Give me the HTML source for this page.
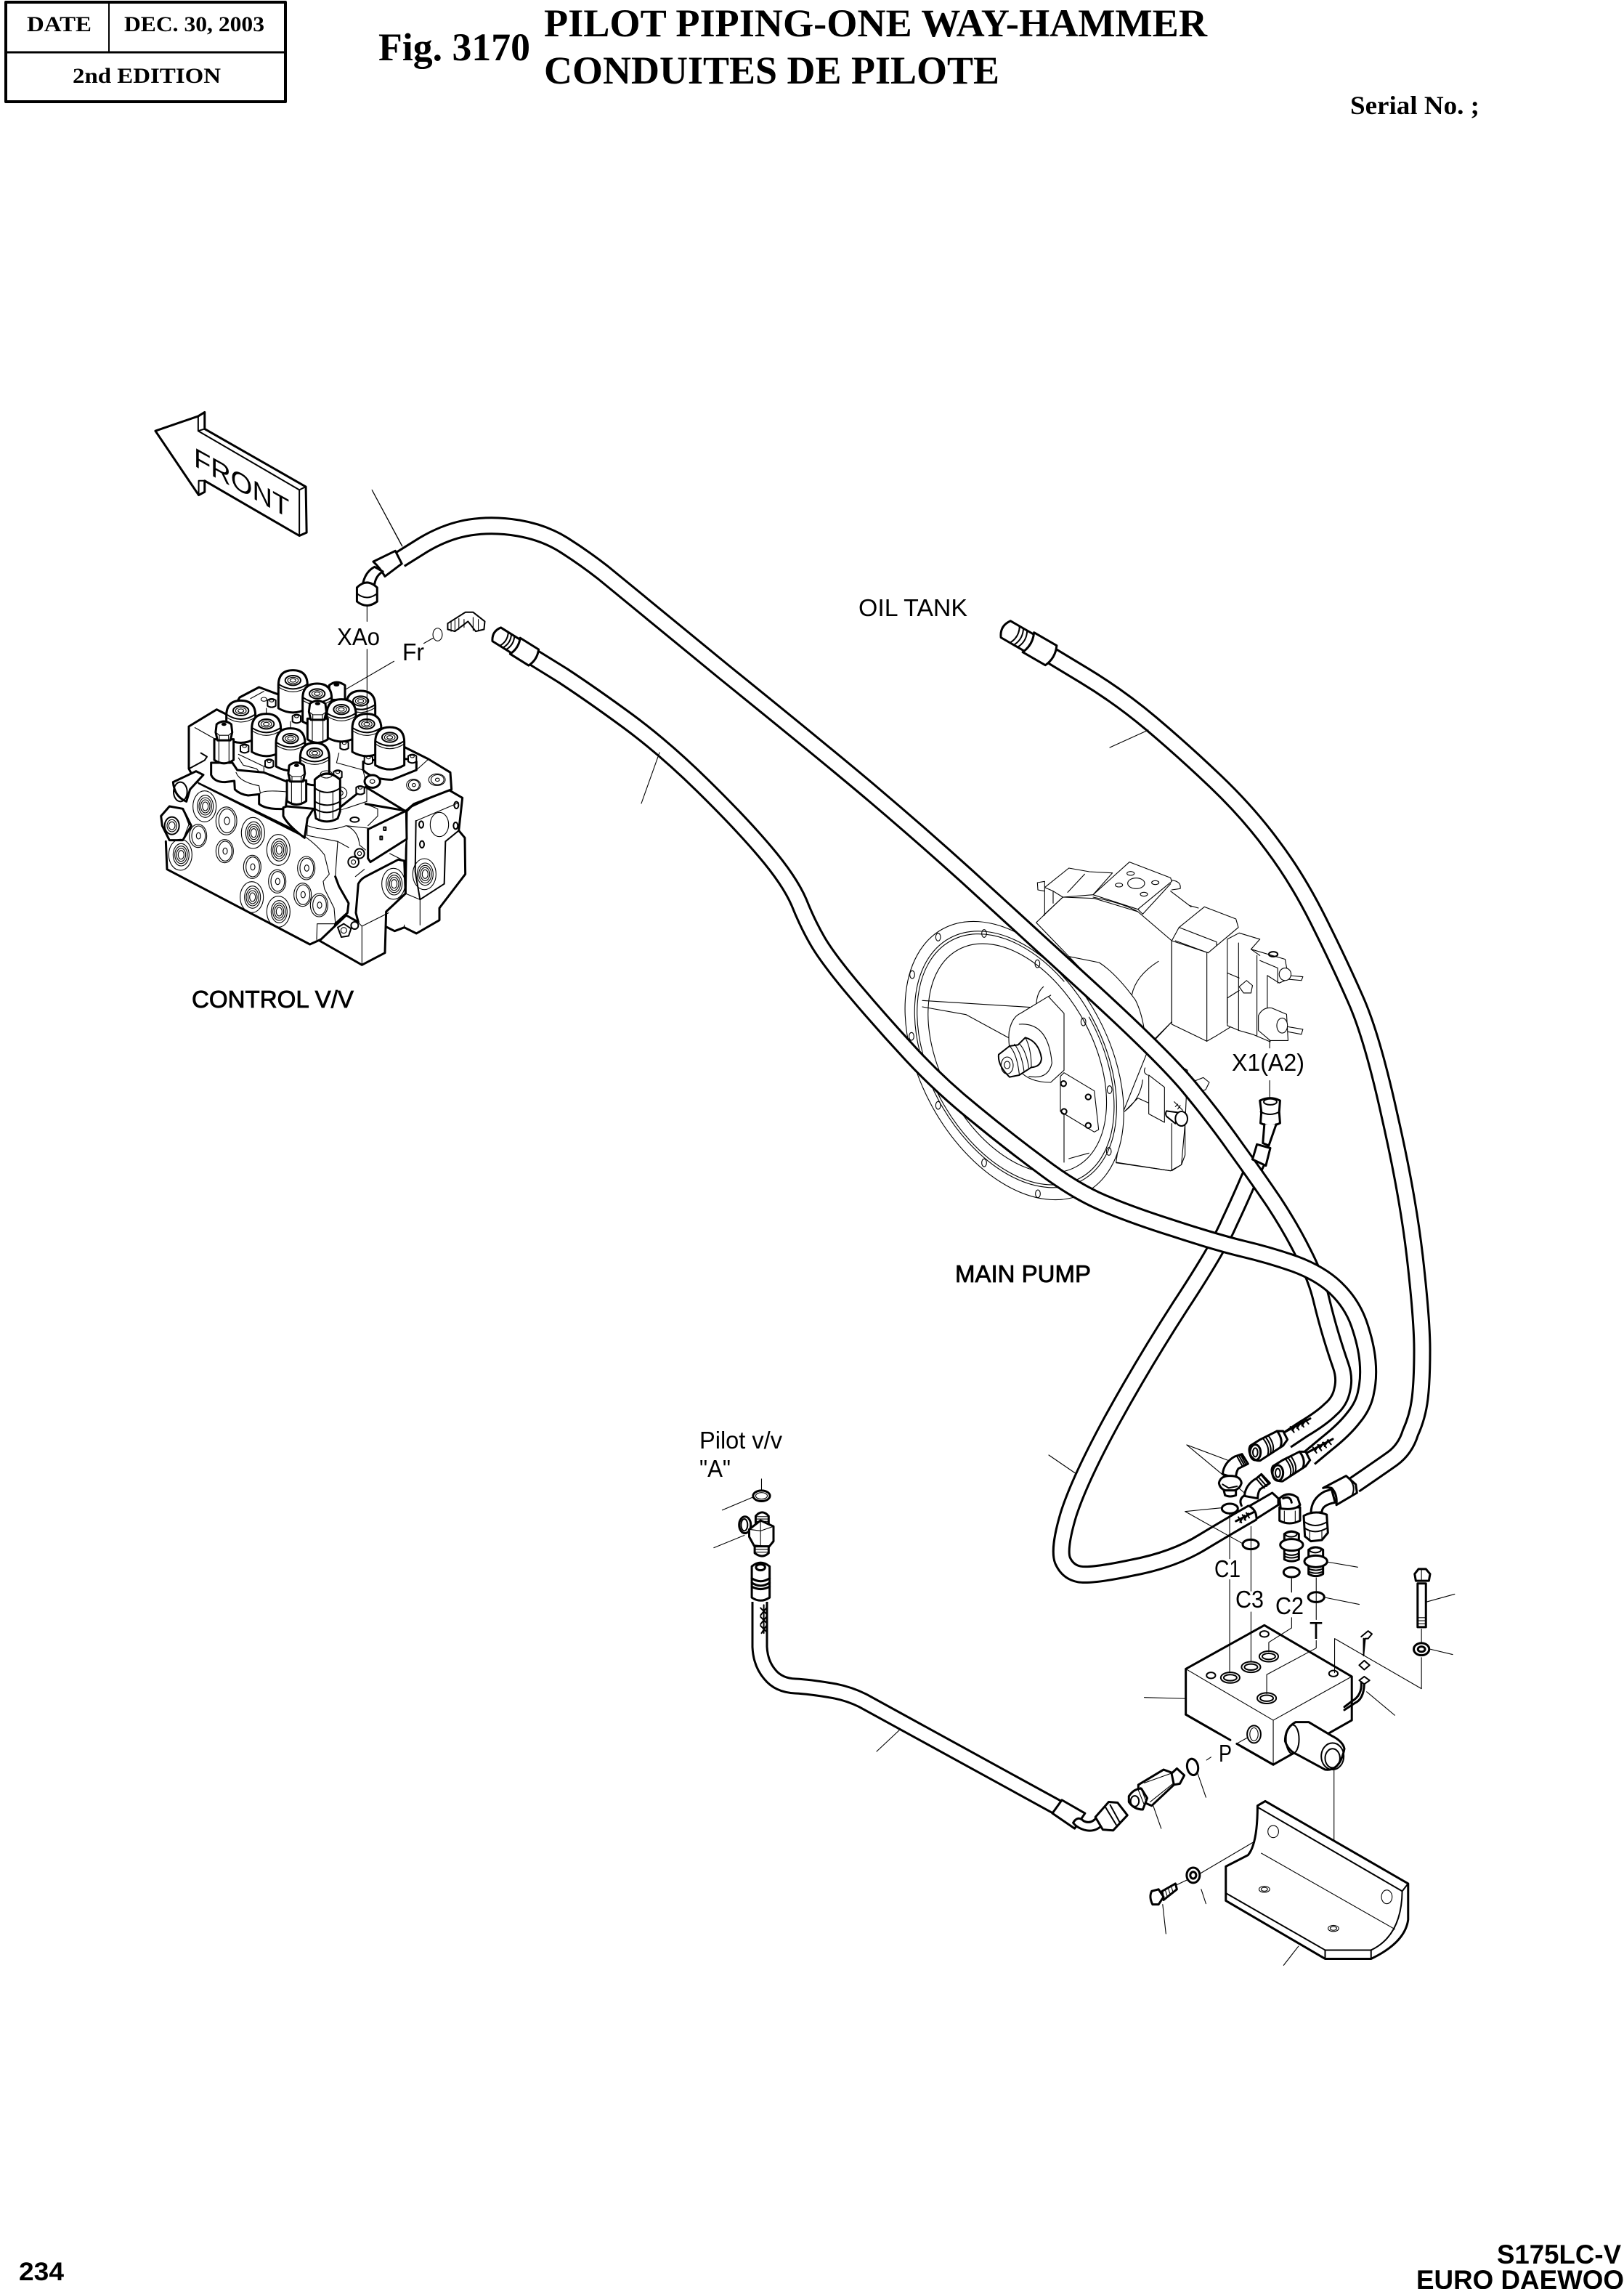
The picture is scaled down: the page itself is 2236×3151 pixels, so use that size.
<!DOCTYPE html>
<html><head><meta charset="utf-8"><title>Fig. 3170 Pilot Piping</title>
<style>
html,body{margin:0;padding:0;background:#fff}
svg{display:block}
svg *{vector-effect:non-scaling-stroke}
path,ellipse,polygon,line,polyline,rect,circle{stroke:#000;stroke-linejoin:round;stroke-linecap:round}
.w{fill:#fff}.n{fill:none}
.t{stroke-width:3}.m{stroke-width:2}.f{stroke-width:1.1}
.ho{fill:none;stroke:#000;stroke-width:25;stroke-linecap:butt}
.hi{fill:none;stroke:#fff;stroke-width:19;stroke-linecap:butt}
text{fill:#000;stroke:none}
.s{font-family:"Liberation Serif",serif;font-weight:bold}
.a{font-family:"Liberation Sans",sans-serif;font-size:33px}
.b{font-family:"Liberation Sans",sans-serif;font-weight:bold}
.bb{stroke:#000;stroke-width:.8}
</style></head><body>
<svg xmlns="http://www.w3.org/2000/svg" width="2236" height="3151" viewBox="0 0 2236 3151">
<rect x="0" y="0" width="2236" height="3151" fill="#fff" style="stroke:none"/>
<defs>
<g id="cap"><path class="w t" d="M-60,20 Q-60,-42 0,-42 Q60,-42 60,20 L60,115 Q0,150 -60,115 Z"/><path class="n m" d="M-60,15 Q0,55 60,15"/><path class="n f" d="M-60,27 Q0,67 60,27"/><ellipse class="n m" rx="32" ry="20"/><ellipse class="n f" rx="22" ry="13"/><ellipse class="n f" rx="12" ry="7"/></g>
<g id="hex"><path class="w t" d="M-42,45 L-42,135 Q0,165 42,135 L42,45 Z"/><path class="w t" d="M-32,-20 Q0,-45 32,-20 L36,15 L28,50 L-28,50 L-36,15 Z"/><path class="n f" d="M-36,15 L-20,28 H20 L36,15 M-20,28 V50 M20,28 V50 M-22,55 V145 M22,55 V145"/><ellipse cy="-20" rx="11" ry="7" fill="#000" style="stroke:none"/></g>
<g id="vport"><ellipse class="n f" rx="48" ry="64"/><ellipse class="n f" rx="33" ry="46" cx="3"/><ellipse class="n f" rx="26" ry="36" cx="3"/><ellipse class="n f" rx="19" ry="27" cx="3"/><ellipse class="n f" rx="12" ry="18" cx="3"/></g>
<g id="vplug"><ellipse class="n f" rx="36" ry="48"/><ellipse class="n f" rx="28" ry="41" cx="2"/><ellipse class="n f" rx="9" ry="13" cx="2"/></g>
<g id="lug"><path class="w m" d="M-17,-8 Q0,-20 17,-8 L17,15 Q0,27 -17,15 Z"/><ellipse class="n f" cy="-6" rx="8" ry="5"/></g>
<g id="coup">
<path class="w t" d="M305,150 L345,125 L415,90 L440,90 L458,125 L440,150 L345,212 Q320,215 305,190 Q295,165 305,150 Z"/>
<ellipse class="n t" cx="325" cy="178" rx="22" ry="32"/><ellipse class="n m" cx="325" cy="178" rx="10" ry="18"/>
<path class="n m" d="M358,122 Q388,160 375,192 M368,116 Q398,155 386,185 M380,110 Q408,150 396,178"/>
<path class="n t" d="M415,90 Q442,125 428,158"/>
<path class="n t" d="M445,95 L552,38"/>
<path class="n m" d="M470,72 L485,95 M490,62 L505,85 M510,52 L525,73 M530,42 L545,60 M478,88 L495,62 M498,78 L515,52 M518,68 L535,42"/>
</g>
</defs>

<!-- header -->
<rect x="8" y="3" width="385" height="137" class="n" style="stroke-width:4;stroke:#000"/>
<line x1="8" y1="72" x2="393" y2="72" style="stroke-width:3"/>
<line x1="150" y1="3" x2="150" y2="72" style="stroke-width:2"/>
<text class="s" x="37" y="43" font-size="30" textLength="89" lengthAdjust="spacingAndGlyphs">DATE</text>
<text class="s" x="171" y="43" font-size="30" textLength="193" lengthAdjust="spacingAndGlyphs">DEC. 30, 2003</text>
<text class="s" x="100" y="114" font-size="30" textLength="204" lengthAdjust="spacingAndGlyphs">2nd EDITION</text>
<text class="s" x="521" y="83" font-size="54" textLength="209" lengthAdjust="spacingAndGlyphs">Fig. 3170</text>
<text class="s" x="749" y="50" font-size="54" textLength="913" lengthAdjust="spacingAndGlyphs">PILOT PIPING-ONE WAY-HAMMER</text>
<text class="s" x="749" y="115" font-size="54" textLength="627" lengthAdjust="spacingAndGlyphs">CONDUITES DE PILOTE</text>
<text class="s" x="1859" y="157" font-size="36" textLength="178" lengthAdjust="spacingAndGlyphs">Serial No. ;</text>

<!-- footer -->
<text class="b" x="26" y="3139" font-size="35" textLength="62" lengthAdjust="spacingAndGlyphs">234</text>
<text class="b" x="2061" y="3116" font-size="37" textLength="171" lengthAdjust="spacingAndGlyphs">S175LC-V</text>
<text class="b" x="1950" y="3151" font-size="37" textLength="286" lengthAdjust="spacingAndGlyphs">EURO DAEWOO</text>

<!-- FRONT arrow -->
<g transform="translate(180 540) scale(.35714 .54857)">
<path class="w t" d="M95,97 L260,60 L285,50 L285,92 L675,237 L678,352 L650,360 L285,222 L285,250 L262,258 Z"/>
<path class="n m" d="M260,60 V97 L650,245 V360 M285,92 L260,97 M650,245 L675,237 M262,222 V258 M262,222 H285"/>
</g>

<!-- control valve (3x crop coords) -->
<g transform="translate(220 910) scale(.33333)">
<!-- right block -->
<path class="w t" d="M1020,620 L1040,600 L1190,530 L1250,565 L1235,700 L1260,730 L1262,880 L1155,1020 V1070 L1060,1125 L1010,1100 L970,1115 L930,1095 L935,1000 L1015,960 Z"/>
<path class="n m" d="M1058,660 L1055,870 L1075,985 L1175,920 L1180,745 L1235,700"/>
<path class="n f" d="M1058,660 L1235,585 M1075,985 V1090 M1075,985 L1015,960 M1010,1100 V1090"/>
<ellipse class="n f" cx="1155" cy="675" rx="38" ry="50"/>
<ellipse class="n m" cx="1080" cy="675" rx="9" ry="14"/><ellipse class="n m" cx="1225" cy="595" rx="9" ry="14"/><ellipse class="n m" cx="1222" cy="680" rx="9" ry="14"/><ellipse class="n m" cx="1083" cy="757" rx="9" ry="14"/>
<use href="#vport" x="1093" y="880"/>
<!-- top plate -->
<path class="w t" d="M120,445 V270 L235,200 L285,225 L330,150 L410,108 L495,140 L800,250 L1110,405 L1200,460 L1205,530 L1050,590 L1015,620 L850,520 L600,720 L150,500 Z"/>
<path class="n m" d="M120,445 L185,410 L195,395 L170,380"/>
<path class="n f" d="M375,155 L430,125 M440,195 V225 M540,250 V285 M1110,405 L1060,450"/>
<use href="#vplug" transform="translate(1048 512) scale(.8 .5)"/>
<use href="#vplug" transform="translate(1145 490) scale(.95 .5)"/>
<use href="#lug" x="462" y="170"/>
<ellipse class="n f" cx="430" cy="158" rx="12" ry="8"/>
<!-- caps back to front -->
<use href="#cap" x="830" y="165"/>
<use href="#cap" x="550" y="80"/>
<path class="w t" d="M700,100 Q730,75 765,100 L765,160 H700 Z"/><ellipse cx="730" cy="98" rx="12" ry="7" fill="#000" style="stroke:none"/>
<use href="#cap" x="650" y="135"/>
<use href="#lug" x="565" y="235"/>
<use href="#cap" x="335" y="205"/>
<use href="#cap" x="750" y="200"/>
<use href="#hex" transform="translate(652 195) scale(1 .95)"/>
<path class="n f" d="M325,385 L430,435 L430,465 L530,500 M325,400 L345,430 L400,445 L430,480 L525,510"/>
<use href="#cap" x="440" y="260"/>
<use href="#cap" x="855" y="260"/>
<use href="#lug" x="762" y="345"/>
<use href="#cap" x="540" y="320"/>
<use href="#lug" x="350" y="358"/>
<path class="w t" d="M840,415 V450 Q880,490 960,490 L1060,450 V415 L1025,405 L960,400 L880,410 Z"/>
<use href="#cap" x="950" y="315"/>
<use href="#lug" x="862" y="405"/><use href="#lug" x="1043" y="400"/>
<use href="#cap" x="640" y="380"/>
<use href="#lug" x="452" y="420"/>
<path class="n f" d="M740,380 L730,420 L840,450 L855,520 L855,580 L735,620"/>
<use href="#lug" x="828" y="530"/><use href="#lug" x="735" y="465"/>
<ellipse class="w t" cx="878" cy="497" rx="32" ry="26"/><ellipse class="n f" cx="878" cy="497" rx="10" ry="8"/>
<ellipse class="n f" cx="745" cy="545" rx="28" ry="25"/><ellipse class="n f" cx="745" cy="545" rx="12" ry="10"/>
<!-- lobes -->
<path class="w t" d="M212,420 L212,470 Q225,500 270,500 L308,495 L310,530 Q330,550 365,555 L410,550 L410,590 Q440,615 520,610 L530,500 L430,460 L320,450 L300,420 Z"/>
<path class="n f" d="M315,460 Q330,500 410,515 L415,545 M412,550 Q420,530 525,540"/>
<use href="#hex" transform="translate(265 280) scale(.95)"/>
<!-- main face -->
<path d="M30,600 L120,545 L150,500 L600,725 L610,650 L850,590 L900,610 L1020,620 V700 L1010,800 L1015,960 L930,1000 L930,1210 L835,1255 L640,1150 L620,1170 L30,860 Z" fill="#fff" style="stroke:none"/>
<path class="w t" d="M510,605 V640 Q530,680 598,730 L610,650 L635,610 L525,600 Z" style="fill:#fff"/>
<use href="#hex" transform="translate(565 450) scale(.95)"/>
<path class="w t" d="M640,490 Q690,440 745,490 V620 L735,650 Q690,675 645,650 L640,620 Z"/>
<path class="n m" d="M640,525 Q690,560 745,525 M640,580 Q690,610 745,580 M640,610 Q690,640 740,610"/>
<path class="n f" d="M660,540 V650 M715,540 V650"/><ellipse class="n f" cx="688" cy="468" rx="25" ry="15"/>
<path class="n t" d="M25,745 L30,860 L620,1170 L720,1125 L725,1085 L775,1040 L780,1000 L740,930 L725,890"/>
<path class="n m" d="M160,505 L595,725"/>
<path class="n f" d="M600,725 Q650,760 680,800 L700,880 L675,910 L680,940 L720,1020 L725,1080 M725,1085 L650,1085 L648,1150 M725,890 L735,745 L780,770"/>
<path class="n f" d="M610,650 L608,720 L735,745 M610,680 Q690,710 770,680 L860,690 M770,680 Q820,700 825,760 L850,780 M850,590 L900,610 V640 L860,680 M808,890 L845,860"/>
<path class="n t" d="M850,590 L1015,618"/>
<ellipse class="n m" cx="805" cy="655" rx="18" ry="10"/>
<!-- lower section -->
<path class="w t" d="M660,1155 L770,1050 L820,1078 L810,1040 L820,920 Q830,900 850,890 L985,820 L1010,825 L1015,960 L935,1035 L930,1205 L835,1255 Z"/>
<path class="n f" d="M835,1095 V1250 M820,1080 L835,1095 L945,1040"/>
<use href="#vport" x="965" y="920"/>
<!-- dark box -->
<path class="w t" d="M860,695 L1018,618 L1020,735 L870,830 L860,815 Z"/>
<path class="n m" d="M925,686 h9 v13 h-9 z M910,724 h9 v13 h-9 z"/>
<path class="n f" d="M950,795 L1010,825"/>
<circle class="w m" cx="800" cy="830" r="22"/><circle class="n f" cx="800" cy="830" r="9"/>
<circle class="w m" cx="825" cy="795" r="20"/><circle class="n f" cx="825" cy="795" r="8"/>
<path class="w m" d="M735,1100 L760,1085 L790,1105 L780,1135 L750,1140 Z"/><circle class="n f" cx="760" cy="1112" r="12"/>
<circle class="w m" cx="805" cy="1092" r="15"/>
<!-- left nut/cylinder -->
<path class="w t" d="M55,500 L150,455 L180,470 L125,530 L110,580 Q60,560 55,500 Z"/>
<ellipse class="n m" cx="85" cy="540" rx="28" ry="40"/>
<path class="w t" d="M5,640 L40,600 L95,610 L130,680 L95,740 L40,740 L10,680 Z"/>
<ellipse class="n m" cx="50" cy="680" rx="30" ry="36"/><ellipse class="n f" cx="50" cy="680" rx="20" ry="25"/><ellipse class="n f" cx="50" cy="680" rx="13" ry="16"/>
<path class="n f" d="M95,610 L120,675 L95,740 M120,675 L130,680"/>
<!-- ports -->
<use href="#vport" x="185" y="600"/>
<use href="#vport" x="385" y="710"/>
<use href="#vport" x="490" y="780"/>
<use href="#vport" x="85" y="800"/>
<use href="#vport" x="380" y="975"/>
<use href="#vport" x="490" y="1035"/>
<use href="#vplug" transform="translate(275 660) scale(1.2)"/>
<use href="#vplug" x="158" y="722"/>
<use href="#vplug" x="268" y="785"/>
<use href="#vplug" x="382" y="850"/>
<use href="#vplug" x="485" y="910"/>
<use href="#vplug" x="605" y="855"/>
<use href="#vplug" x="590" y="965"/>
<use href="#vplug" x="658" y="1008"/>
<path class="n f" d="M145,275 L225,320"/>
</g>

<!-- XAo leader, Fr items -->
<g transform="translate(180 540) scale(.35714 .54857)">
<path class="n f" d="M911,535 V575 M911,645 V830 M1015,675 L830,745 M1130,630 L1165,617 M930,245 L1045,385"/>
<ellipse class="w f" cx="1183" cy="608" rx="18" ry="16"/>
<path class="w m" d="M1222,580 L1290,552 L1320,552 L1365,575 L1362,595 L1330,600 L1300,575 L1250,600 L1222,595 Z"/>
<path class="n f" d="M1235,575 V600 M1250,572 V600 M1265,568 V595 M1285,570 V590 M1320,565 V598 M1340,570 V598"/>
</g>

<!-- pump body (3x crop coords) -->
<g transform="translate(1230 1180) scale(.33333)">
<path class="w f" d="M590,270 L700,165 L830,170 L1010,225 L1150,345 V680 L1065,765 L950,1050 L920,1260 L1145,1295 L1190,1270 L1205,1100 L1215,880 L1130,830 L725,410 Z"/>
<path class="n f" d="M625,240 V125 M595,105 L625,100 L625,140 L597,135 Z M625,125 L725,45 L810,60 L905,65 L825,155 L700,165 L660,140 L625,125 M660,140 V190 M720,145 L790,70 M700,165 L620,240"/>
<path class="w f" d="M825,155 L975,20 L1145,85 L1150,100 L1010,215 Z"/>
<ellipse class="n f" cx="1003" cy="108" rx="35" ry="22"/><ellipse class="n f" cx="980" cy="67" rx="15" ry="8"/><ellipse class="n f" cx="932" cy="115" rx="15" ry="8"/><ellipse class="n f" cx="1082" cy="105" rx="15" ry="8"/><ellipse class="n f" cx="1035" cy="153" rx="15" ry="8"/>
<path class="n f" d="M1010,215 L1030,235 L1145,110 M1150,95 Q1190,100 1185,130 L1150,135 M1145,140 L1230,205 M1225,200 L1260,210 M825,165 Q950,190 1010,225"/>
<path class="w f" d="M1150,345 L1180,290 L1285,205 L1415,255 L1425,290 L1300,395 L1150,345 V690 L1295,760 V395"/>
<path class="n f" d="M1180,290 L1335,350 V365 M1165,345 L1300,395 M1295,760 L1330,740 L1395,700 M1150,680 L1070,765"/>
<path class="n f" d="M725,410 L850,435 Q920,480 1000,590 Q1030,650 1040,740 M1095,430 Q1000,490 985,570 M1130,830 L1215,880 V920 M1230,930 L1280,910 L1305,930 L1290,960 L1250,975 M1040,870 Q1030,890 1050,900 M1055,900 V1060 L1120,1095 V950 L1055,900 M1030,920 Q1020,1000 955,1050 L1010,995 L1055,1015 M1150,1100 V1295 L1190,1270 L1205,1230 V1100 M920,1262 L1145,1295"/>
<path class="n m" d="M1128,1048 L1180,1055 L1165,1100 L1128,1070 Q1122,1060 1128,1048 Z"/>
<ellipse class="w m" cx="1190" cy="1080" rx="25" ry="30"/>
<path class="n f" d="M1160,1010 L1195,1045 M1165,1030 L1175,1020 M1175,1040 L1185,1025"/>
</g>
<!-- pump right stack -->
<g transform="translate(1200 1150) scale(.40816 .34439)">
<path class="w f" d="M1200,415 L1240,390 L1310,415 L1280,455 L1395,495 L1405,560 L1455,565 L1450,580 L1405,575 L1375,590 L1335,560 V780 L1345,825 L1285,795 L1240,780 L1200,760 Z"/>
<path class="n f" d="M1238,430 V780 M1300,480 V800 M1280,455 L1310,480 M1310,500 L1370,530 V590 M1200,550 L1240,570 M1200,650 L1240,620 M1200,650 V750"/>
<ellipse class="n m" cx="1355" cy="475" rx="15" ry="10"/>
<ellipse class="w f" cx="1395" cy="555" rx="20" ry="25"/>
<path class="w f" d="M1265,580 L1285,600 L1280,630 L1255,630 L1240,605 Z"/>
<path class="w f" d="M1305,720 Q1320,685 1350,690 L1400,715 L1405,820 L1345,820 L1305,780 Z"/>
<ellipse class="w f" cx="1385" cy="760" rx="18" ry="30"/><path class="n f" d="M1405,765 L1455,775 L1450,795 L1405,785"/>
</g>
<!-- flange -->
<g transform="translate(1230 1180) scale(.33333)">
<ellipse class="w f" cx="500" cy="840" rx="389" ry="619" transform="rotate(-28.5 500 840)"/>
<ellipse class="n f" cx="505" cy="835" rx="360" ry="570" transform="rotate(-28.5 505 835)"/>
<ellipse class="n f" cx="505" cy="835" rx="350" ry="558" transform="rotate(-28.5 505 835)" stroke-dasharray="900 60"/>
<ellipse class="n f" cx="512" cy="830" rx="315" ry="510" transform="rotate(-28.5 512 830)"/>
<ellipse class="n f" cx="185" cy="330" rx="10" ry="16"/><ellipse class="n f" cx="375" cy="315" rx="10" ry="16"/><ellipse class="n f" cx="595" cy="440" rx="10" ry="16"/><ellipse class="n f" cx="78" cy="485" rx="10" ry="16"/><ellipse class="n f" cx="75" cy="740" rx="10" ry="16"/><ellipse class="n f" cx="785" cy="680" rx="10" ry="16"/><ellipse class="n f" cx="893" cy="960" rx="10" ry="16"/><ellipse class="n f" cx="890" cy="1215" rx="10" ry="16"/><ellipse class="n f" cx="597" cy="1390" rx="10" ry="16"/><ellipse class="n f" cx="375" cy="1262" rx="10" ry="16"/><ellipse class="n f" cx="185" cy="1025" rx="10" ry="16"/>
<path class="n f" d="M120,592 L570,620 L650,570 M120,618 L300,650 L475,745 M590,620 Q590,560 620,535"/>
<path class="w f" d="M705,645 V880 L650,930 Q560,930 520,880 Q470,820 478,720 Q490,660 525,645 L640,575 Z"/>
<path class="n f" d="M520,690 Q640,680 655,850 Q640,920 560,905"/>
<path class="w m" d="M515,775 L545,745 Q600,760 612,830 Q610,865 570,868 L520,900 L480,908 Q430,860 435,815 L480,780 Z"/>
<path class="n f" d="M480,780 Q510,810 520,895 M500,772 Q530,810 540,885 M520,770 Q550,800 560,875 M545,745 Q570,790 570,868"/>
<ellipse class="n f" cx="470" cy="860" rx="25" ry="35"/><ellipse class="n f" cx="470" cy="858" rx="12" ry="15"/>
<path class="w f" d="M690,905 L705,890 L830,965 L848,1125 L830,1135 L690,1050 Z"/>
<circle class="n m" cx="703" cy="935" r="11"/><circle class="n m" cx="805" cy="990" r="11"/><circle class="n m" cx="705" cy="1050" r="11"/><circle class="n m" cx="805" cy="1108" r="11"/>
<path class="n f" d="M705,1060 V1260 M725,1245 L808,1222"/>
</g>

<!-- elbow 2 under hose D -->
<g transform="translate(1620 1940) scale(.33333)">
<path class="w t" d="M280,358 Q285,310 330,285 L350,268 L385,305 L345,330 Q335,345 335,368 Z"/>
<path class="n m" d="M340,282 L372,318 M350,272 L380,308 M332,290 L362,325"/>
<path class="n t" d="M268,398 Q255,370 282,355"/>
<path class="n f" d="M42,147 L280,345"/>
</g>

<!-- hoses -->
<g>
<path class="ho" d="M1731,1598 L1719,1624 Q1708,1650 1692,1684 Q1677,1719 1625,1798 Q1574,1877 1530,1957 Q1486,2038 1471,2085 Q1457,2132 1463,2148 Q1470,2164 1486,2167 Q1502,2170 1559,2158 Q1617,2147 1657,2122 Q1697,2098 1725,2082"/>
<path class="hi" d="M1731,1598 L1719,1624 Q1708,1650 1692,1684 Q1677,1719 1625,1798 Q1574,1877 1530,1957 Q1486,2038 1471,2085 Q1457,2132 1463,2148 Q1470,2164 1486,2167 Q1502,2170 1559,2158 Q1617,2147 1657,2122 Q1697,2098 1725,2082"/>
<path class="ho" d="M551,770 L583,750 Q615,731 647,726 Q679,721 714,727 Q749,733 776,750 Q803,767 830,788 Q857,810 997,925 Q1138,1039 1203,1094 Q1269,1150 1331,1206 Q1393,1263 1495,1356 Q1598,1450 1636,1495 Q1674,1541 1702,1581 Q1731,1621 1754,1655 Q1777,1690 1794,1724 Q1812,1759 1819,1788 Q1826,1817 1833,1840 Q1840,1863 1846,1880 Q1852,1897 1848,1913 Q1845,1929 1832,1940 Q1820,1952 1795,1967 L1771,1983"/>
<path class="hi" d="M551,770 L583,750 Q615,731 647,726 Q679,721 714,727 Q749,733 776,750 Q803,767 830,788 Q857,810 997,925 Q1138,1039 1203,1094 Q1269,1150 1331,1206 Q1393,1263 1495,1356 Q1598,1450 1636,1495 Q1674,1541 1702,1581 Q1731,1621 1754,1655 Q1777,1690 1794,1724 Q1812,1759 1819,1788 Q1826,1817 1833,1840 Q1840,1863 1846,1880 Q1852,1897 1848,1913 Q1845,1929 1832,1940 Q1820,1952 1795,1967 L1771,1983"/>
<path class="ho" d="M733,904 L775,930 Q816,957 865,993 Q915,1030 967,1081 Q1020,1133 1053,1172 Q1087,1212 1100,1242 Q1112,1272 1126,1296 Q1140,1320 1177,1364 Q1215,1409 1255,1452 Q1295,1495 1341,1532 Q1387,1570 1433,1604 Q1479,1639 1519,1656 Q1559,1673 1616,1691 Q1674,1710 1711,1719 Q1749,1728 1783,1740 Q1818,1753 1839,1773 Q1861,1794 1871,1822 Q1881,1851 1883,1874 Q1885,1897 1881,1915 Q1878,1934 1864,1951 Q1851,1968 1827,1987 L1803,2007"/>
<path class="hi" d="M733,904 L775,930 Q816,957 865,993 Q915,1030 967,1081 Q1020,1133 1053,1172 Q1087,1212 1100,1242 Q1112,1272 1126,1296 Q1140,1320 1177,1364 Q1215,1409 1255,1452 Q1295,1495 1341,1532 Q1387,1570 1433,1604 Q1479,1639 1519,1656 Q1559,1673 1616,1691 Q1674,1710 1711,1719 Q1749,1728 1783,1740 Q1818,1753 1839,1773 Q1861,1794 1871,1822 Q1881,1851 1883,1874 Q1885,1897 1881,1915 Q1878,1934 1864,1951 Q1851,1968 1827,1987 L1803,2007"/>
<path class="ho" d="M1445,901 L1493,930 Q1541,959 1585,996 Q1630,1034 1674,1076 Q1719,1119 1752,1164 Q1786,1209 1815,1267 Q1844,1325 1866,1375 Q1889,1426 1913,1535 Q1938,1644 1948,1730 Q1958,1817 1958,1858 Q1958,1900 1955,1925 Q1952,1950 1942,1972 Q1935,1995 1917,2008 Q1900,2020 1865,2044"/>
<path class="hi" d="M1445,901 L1493,930 Q1541,959 1585,996 Q1630,1034 1674,1076 Q1719,1119 1752,1164 Q1786,1209 1815,1267 Q1844,1325 1866,1375 Q1889,1426 1913,1535 Q1938,1644 1948,1730 Q1958,1817 1958,1858 Q1958,1900 1955,1925 Q1952,1950 1942,1972 Q1935,1995 1917,2008 Q1900,2020 1865,2044"/>
<path class="ho" style="stroke-width:23" d="M1046,2205 L1046,2267 Q1047,2290 1060,2305 Q1072,2320 1095,2321 Q1116,2322 1150,2328 Q1170,2332 1188,2341 L1456,2488"/>
<path class="hi" style="stroke-width:17" d="M1046,2205 L1046,2267 Q1047,2290 1060,2305 Q1072,2320 1095,2321 Q1116,2322 1150,2328 Q1170,2332 1188,2341 L1456,2488"/>
</g>

<!-- hose start fittings -->
<g id="hend1" transform="translate(733 904) rotate(32)">
<path class="w t" d="M-58,-11 L-8,-11 Q-4,0 -8,11 L-58,11 Q-66,0 -58,-11 Z"/>
<path class="n m" d="M-46,-11 Q-40,0 -46,11 M-41,-11 Q-35,0 -41,11 M-36,-11 Q-30,0 -36,11"/>
<path class="w t" d="M-28,-13 L2,-13 Q8,0 2,13 L-28,13 Q-22,0 -28,-13 Z"/>
</g>
<g transform="translate(1445 901) rotate(30) scale(1.2)">
<path class="w t" d="M-58,-11 L-8,-11 Q-4,0 -8,11 L-58,11 Q-66,0 -58,-11 Z"/>
<path class="n m" d="M-46,-11 Q-40,0 -46,11 M-41,-11 Q-35,0 -41,11 M-36,-11 Q-30,0 -36,11"/>
<path class="w t" d="M-28,-13 L2,-13 Q8,0 2,13 L-28,13 Q-22,0 -28,-13 Z"/>
</g>

<!-- hose leaders -->
<path class="n f" d="M513,676 L554,752 M908,1036 L883,1106 M1581,1005 L1528,1029 M1239,2381 L1207,2411 M1444,2003 L1482,2029"/>

<!-- XAo elbow -->
<g transform="translate(180 540) scale(.35714 .54857)">
<path class="w t" d="M935,425 L1020,398 L1045,430 L980,462 Q960,440 935,425 Z"/>
<path class="w t" d="M895,480 Q905,450 940,438 L972,450 Q945,460 940,482 Z"/>
<path class="w t" d="M872,490 Q910,465 950,490 L950,525 Q910,545 872,525 Z"/>
<path class="n m" d="M872,505 Q910,525 950,505"/>
</g>

<!-- X1 fitting -->
<g transform="translate(1200 1150) scale(.40816 .34439)">
<path class="n f" d="M1343,820 V850 M1343,980 V1045"/>
<path class="w t" d="M1310,1060 Q1345,1040 1378,1060 L1375,1105 L1378,1150 Q1345,1170 1312,1150 L1315,1105 Z"/>
<ellipse class="n m" cx="1345" cy="1065" rx="22" ry="12"/><path class="n m" d="M1312,1105 Q1345,1125 1376,1105"/>
<path class="w t" d="M1325,1155 L1320,1230 L1340,1240 L1365,1155"/>
<path class="w t" d="M1300,1235 L1345,1250 L1330,1320 L1285,1295 Z"/>
</g>

<!-- manifold area fittings (3x crop coords) -->
<g transform="translate(1620 1940) scale(.33333)">
<use href="#coup"/>
<use href="#coup" x="93" y="85"/>
<!-- elbow 1 -->
<path class="n f" d="M42,147 L210,210 M35,422 L185,407 M35,422 L270,553 M620,630 L748,652"/>
<path class="w t" d="M190,268 Q195,220 240,195 L270,185 L295,225 L255,245 Q245,260 245,285 Z"/>
<path class="n m" d="M250,195 L270,232 M258,192 L278,228 M266,190 L285,226"/>
<path class="w t" d="M175,305 Q180,275 220,275 Q265,275 268,305 Q260,335 220,340 Q180,335 175,305 Z"/>
<path class="n m" d="M190,310 L215,325 L250,318"/>
<path class="w t" d="M195,335 L200,355 Q220,365 245,355 L245,335 Z"/>
<ellipse class="n t" cx="220" cy="410" rx="33" ry="20"/>
<ellipse class="n t" cx="306" cy="558" rx="33" ry="20"/>
<!-- hose D collar + nut -->
<path class="w t" d="M300,400 L395,345 L420,368 L420,395 L330,452 Q330,415 300,400 Z"/>
<path class="n t" d="M245,462 L318,425"/>
<path class="n m" d="M255,445 L268,468 M272,436 L285,458 M288,428 L300,448 M262,466 L280,438 M280,456 L296,430"/>
<path class="w t" d="M425,405 V460 Q465,482 510,460 V405 Z"/>
<path class="n f" d="M445,420 V470 M490,420 V470"/>
<path class="w t" d="M425,368 Q460,335 500,365 L510,395 Q490,418 430,410 Z"/>
<path class="n t" d="M440,368 Q470,355 475,385"/>
<!-- hose C elbow -->
<path class="w t" d="M605,325 L700,275 L740,310 L745,345 L660,395 Q665,350 640,325 Q620,320 605,325 Z"/>
<path class="n m" d="M700,275 Q745,310 725,355"/>
<path class="w t" d="M555,430 Q555,370 610,340 L640,330 L655,385 Q600,395 600,425 Z"/>
<path class="w t" d="M525,440 Q570,415 620,435 L625,510 L600,540 L555,545 L530,525 Z"/>
<path class="n m" d="M528,465 Q570,495 622,465 M528,490 Q570,520 622,490"/>
<path class="n f" d="M550,500 V545 M600,500 V540"/>
<!-- adapter 3 -->
<path class="w t" d="M445,515 Q475,495 505,515 V620 Q475,635 445,620 Z"/>
<ellipse class="n m" cx="473" cy="515" rx="24" ry="12"/>
<ellipse class="w t" cx="475" cy="560" rx="47" ry="24"/>
<path class="n m" d="M445,595 Q475,610 505,595 M445,607 Q475,620 505,607"/>
<ellipse class="n t" cx="475" cy="673" rx="33" ry="20"/>
<path class="n f" d="M475,695 V755"/>
<!-- adapter 4 -->
<path class="w t" d="M545,580 Q575,560 605,580 V680 Q575,698 545,680 Z"/>
<ellipse class="n m" cx="573" cy="580" rx="24" ry="12"/>
<ellipse class="w t" cx="575" cy="628" rx="47" ry="24"/>
<path class="n m" d="M545,658 Q575,672 605,658 M545,670 Q575,684 605,670"/>
</g>

<!-- lower right parts -->
<g transform="translate(1400 1900) scale(.40816 .52296)">
<path class="w t" d="M570,760 L835,645 L1130,780 L1130,895 L865,1012 L570,880 Z"/>
<path class="n f" d="M570,760 L865,895 L1130,780 M865,895 V1012"/>
<ellipse class="w m" cx="720" cy="783" rx="32" ry="14"/><ellipse class="n m" cx="720" cy="783" rx="22" ry="8"/>
<ellipse class="w m" cx="790" cy="755" rx="32" ry="14"/><ellipse class="n m" cx="790" cy="755" rx="22" ry="8"/>
<ellipse class="w m" cx="850" cy="727" rx="32" ry="14"/><ellipse class="n m" cx="850" cy="727" rx="22" ry="8"/>
<ellipse class="w m" cx="843" cy="837" rx="32" ry="14"/><ellipse class="n m" cx="843" cy="837" rx="22" ry="8"/>
<ellipse class="n m" cx="655" cy="777" rx="15" ry="8"/><ellipse class="n m" cx="835" cy="668" rx="15" ry="8"/><ellipse class="n m" cx="1068" cy="772" rx="15" ry="8"/>
<ellipse class="w m" cx="800" cy="932" rx="23" ry="23"/><ellipse class="n f" cx="800" cy="932" rx="14" ry="17"/>
<rect x="680" y="925" width="75" height="80" fill="#fff" style="stroke:none"/>
<path class="n t" d="M570,880 L720,947 M742,957 L865,1012"/>
<path class="w t" d="M940,900 Q905,915 905,950 Q915,975 945,985 L1040,1025 Q1090,1030 1105,970 Q1100,950 1060,935 L985,900 Z"/>
<ellipse class="n m" cx="930" cy="945" rx="22" ry="38"/>
<ellipse class="n m" cx="1065" cy="990" rx="38" ry="35"/><ellipse class="n m" cx="1065" cy="995" rx="25" ry="25"/>
<path class="n f" d="M718,352 V470 M718,525 V770 M790,385 V555 M790,610 V740 M927,625 V652 L850,690 V715 M927,525 V558 M1010,520 V630 M1010,685 V705 L843,775 V825 M1040,572 L1155,590 M1375,585 L1477,563 M1395,708 L1470,722 M1072,770 V680 L1365,812 V730 M1365,655 V690 M1180,820 L1275,882 M430,835 L570,838 M640,1000 L655,992 M610,1035 L638,1098 M460,1120 L487,1180 M622,1340 L638,1378 M492,1380 L503,1457 M950,1490 L900,1540 M745,955 L780,940 M1070,1025 V1440 M535,1330 L575,1315 M615,1300 L800,1215 L848,1195"/>
<ellipse class="n t" cx="1010" cy="571" rx="27" ry="13"/>
<!-- right bolt -->
<path class="w t" d="M1352,535 H1380 V650 H1352 Z"/>
<path class="w t" d="M1342,510 L1355,497 L1380,497 L1394,510 L1390,528 H1346 Z"/>
<path class="n f" d="M1352,625 H1380 M1352,633 H1380 M1352,641 H1380 M1365,500 V525"/>
<ellipse class="w t" cx="1365" cy="708" rx="26" ry="16"/><ellipse class="n t" cx="1365" cy="708" rx="12" ry="7"/>
<!-- wire harness -->
<path class="w m" d="M1162,675 L1185,660 L1198,668 L1185,680 L1175,680 L1170,720 M1170,680 V725"/>
<path class="w m" d="M1155,750 L1172,738 L1190,750 L1172,762 Z"/><path class="w m" d="M1155,790 L1172,780 L1190,790 L1172,800 Z"/>
<path class="n t" d="M1172,800 Q1170,840 1140,850 L1105,868 M1162,795 Q1165,830 1130,845 L1105,860"/>
<!-- pressure adapter -->
<path class="w t" d="M410,1065 L495,1025 L530,1035 L530,1065 L455,1120 L410,1105 Z"/>
<path class="n f" d="M430,1060 L520,1035 M450,1110 L530,1060"/>
<path class="w t" d="M522,1035 L540,1022 L565,1040 L550,1062 L530,1065 Z"/>
<path class="w t" d="M378,1095 Q395,1075 420,1075 L440,1100 L425,1130 Q395,1130 378,1110 Z"/>
<ellipse class="n m" cx="398" cy="1108" rx="14" ry="14"/>
<path class="n f" d="M408,1075 L430,1118 M418,1072 L438,1112"/>
<ellipse class="w t" cx="593" cy="1018" rx="18" ry="22" transform="rotate(-25 593 1018)"/>
<!-- elbow of hose E -->
<path class="w t" d="M120,1140 L152,1105 L230,1140 L195,1180 Z"/>
<path class="w t" d="M190,1165 Q205,1145 225,1160 Q250,1170 270,1150 L295,1165 Q270,1190 235,1185 Q205,1180 190,1165 Z"/>
<path class="w t" d="M265,1150 L310,1110 L340,1112 L373,1145 L325,1185 L290,1183 Z"/>
<path class="n m" d="M300,1125 L335,1170 M315,1118 L348,1165"/>
<!-- small bolt -->
<path class="w t" d="M490,1345 L535,1325 L540,1340 L495,1368 Z"/>
<path class="n f" d="M500,1340 L508,1360 M510,1335 L518,1355 M520,1330 L528,1350"/>
<path class="w t" d="M455,1345 L478,1340 L495,1360 L478,1380 L458,1380 Q445,1360 455,1345 Z"/>
<ellipse class="w t" cx="595" cy="1303" rx="22" ry="20"/><ellipse class="n t" cx="595" cy="1303" rx="10" ry="9"/>
<!-- bracket -->
<path class="w t" d="M812,1120 L838,1108 L1320,1325 L1320,1420 Q1310,1480 1195,1523 L1040,1523 L705,1370 L705,1280 L780,1250 Q812,1220 812,1120 Z"/>
<path class="n m" d="M815,1125 L1300,1345 L1320,1325 M705,1350 L1040,1500 H1195 Q1298,1462 1300,1345 M1040,1500 V1523 M1195,1500 V1523"/>
<path class="n f" d="M825,1245 L1275,1445"/>
<ellipse class="w f" cx="865" cy="1188" rx="18" ry="16"/><ellipse class="n f" cx="835" cy="1340" rx="18" ry="8"/><ellipse class="n f" cx="835" cy="1340" rx="11" ry="5"/>
<ellipse class="n f" cx="1248" cy="1360" rx="18" ry="18"/><ellipse class="w f" cx="1068" cy="1443" rx="18" ry="8"/><ellipse class="n f" cx="1068" cy="1443" rx="11" ry="5"/>
</g>

<!-- pilot fitting -->
<g transform="translate(940 1940) scale(.44643 .40816)">
<path class="n f" d="M243,235 V290 M122,340 L215,297 M96,467 L190,425"/>
<ellipse class="w t" cx="243" cy="292" rx="26" ry="18"/><ellipse class="n f" cx="243" cy="292" rx="18" ry="11"/>
<ellipse class="w t" cx="192" cy="390" rx="18" ry="28"/><ellipse class="n m" cx="190" cy="390" rx="10" ry="20"/>
<path class="w t" d="M225,360 Q245,335 265,360 V385 H225 Z"/>
<path class="n f" d="M225,362 H265 M225,370 H265 M225,378 H265"/>
<path class="w t" d="M205,405 L240,375 L280,395 V445 L265,465 L220,460 L205,430 Z"/>
<path class="n f" d="M240,380 V460 M205,405 L240,410 L280,395"/>
<path class="w t" d="M222,462 H265 V485 Q245,505 222,485 Z"/><path class="n f" d="M222,472 H265 M222,482 H265"/>
<path class="w t" d="M213,530 Q240,505 268,530 V635 Q240,655 213,635 Z"/>
<ellipse class="n t" cx="240" cy="533" rx="14" ry="10"/>
<path class="n t" d="M213,570 Q240,590 268,570 M213,585 Q240,605 268,585 M213,598 Q240,615 268,598"/>
<path class="n m" d="M240,670 L258,690 M258,670 L240,695 M240,700 L258,720 M258,700 L240,725 M240,730 L258,750 M258,730 L243,755 M250,660 V755"/>
</g>

<!-- labels -->
<text class="a" x="1182" y="848" textLength="150" lengthAdjust="spacingAndGlyphs">OIL TANK</text>
<text class="a" x="554" y="909" textLength="30" lengthAdjust="spacingAndGlyphs">Fr</text>
<text class="a" x="464" y="888" textLength="59" lengthAdjust="spacingAndGlyphs">XAo</text>
<text class="a bb" x="264" y="1387" textLength="223" lengthAdjust="spacingAndGlyphs">CONTROL V/V</text>
<text class="a bb" x="1315" y="1765" textLength="187" lengthAdjust="spacingAndGlyphs">MAIN PUMP</text>
<text class="a" x="1696" y="1474" textLength="100" lengthAdjust="spacingAndGlyphs">X1(A2)</text>
<text class="a" x="963" y="1994" textLength="114" lengthAdjust="spacingAndGlyphs">Pilot v/v</text>
<text class="a" x="963" y="2033" textLength="43" lengthAdjust="spacingAndGlyphs">"A"</text>
<text class="a" x="1672" y="2171" textLength="36" lengthAdjust="spacingAndGlyphs">C1</text>
<text class="a" x="1701" y="2213" textLength="39" lengthAdjust="spacingAndGlyphs">C3</text>
<text class="a" x="1756" y="2222" textLength="39" lengthAdjust="spacingAndGlyphs">C2</text>
<text class="a" x="1803" y="2256" textLength="18" lengthAdjust="spacingAndGlyphs">T</text>
<text class="a" x="1678" y="2425" textLength="18" lengthAdjust="spacingAndGlyphs">P</text>
<text x="0" y="0" font-size="37" font-family="Liberation Sans, sans-serif" textLength="150" lengthAdjust="spacingAndGlyphs" transform="matrix(.875 .485 0 1 267 641)">FRONT</text>
</svg>
</body></html>
